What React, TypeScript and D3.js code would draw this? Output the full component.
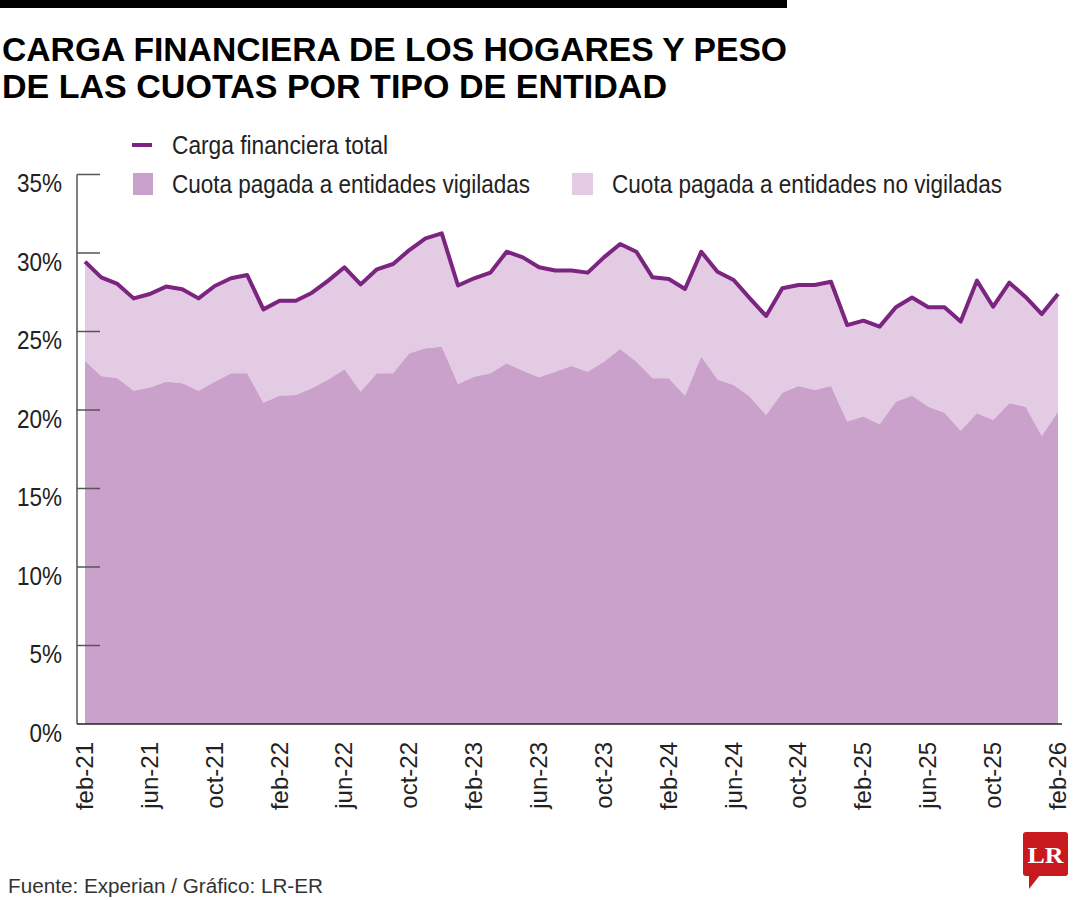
import React from "react";
import * as d3 from "d3";

const months = [
  "feb-21","mar-21","abr-21","may-21","jun-21","jul-21","ago-21","sep-21","oct-21","nov-21","dic-21",
  "ene-22","feb-22","mar-22","abr-22","may-22","jun-22","jul-22","ago-22","sep-22","oct-22","nov-22","dic-22",
  "ene-23","feb-23","mar-23","abr-23","may-23","jun-23","jul-23","ago-23","sep-23","oct-23","nov-23","dic-23",
  "ene-24","feb-24","mar-24","abr-24","may-24","jun-24","jul-24","ago-24","sep-24","oct-24","nov-24","dic-24",
  "ene-25","feb-25","mar-25","abr-25","may-25","jun-25","jul-25","ago-25","sep-25","oct-25","nov-25","dic-25",
  "ene-26","feb-26"
];

const tickLabels = [
  "feb-21","jun-21","oct-21","feb-22","jun-22","oct-22","feb-23","jun-23",
  "oct-23","feb-24","jun-24","oct-24","feb-25","jun-25","oct-25","feb-26"
];

const yTicks = [0, 5, 10, 15, 20, 25, 30, 35];

// Carga financiera total (%)
const total = [
  29.45, 28.45, 28.03, 27.11, 27.39, 27.86, 27.69, 27.11, 27.9, 28.39, 28.6,
  26.41, 26.96, 26.96, 27.47, 28.24, 29.09, 28.0, 28.96, 29.3, 30.19, 30.93, 31.25,
  27.93, 28.39, 28.75, 30.08, 29.72, 29.09, 28.88, 28.88, 28.75, 29.72, 30.57, 30.08,
  28.45, 28.34, 27.71, 30.08, 28.81, 28.28, 27.11, 25.99, 27.75, 27.96, 27.96, 28.17,
  25.41, 25.69, 25.31, 26.54, 27.16, 26.54, 26.54, 25.63, 28.24, 26.58, 28.11, 27.2,
  26.11, 27.39
];

// Cuota pagada a entidades vigiladas (%)
const vigiladas = [
  23.12, 22.17, 22.02, 21.23, 21.44, 21.8, 21.7, 21.23, 21.8, 22.34, 22.34,
  20.46, 20.91, 20.96, 21.38, 21.95, 22.59, 21.17, 22.34, 22.34, 23.61, 23.93, 24.03,
  21.65, 22.12, 22.34, 22.97, 22.5, 22.08, 22.44, 22.8, 22.44, 23.08, 23.89, 23.08,
  22.02, 22.02, 20.91, 23.4, 21.95, 21.59, 20.85, 19.68, 21.1, 21.53, 21.27, 21.53,
  19.26, 19.58, 19.09, 20.53, 20.91, 20.21, 19.83, 18.68, 19.79, 19.36, 20.43, 20.21,
  18.34, 19.89
];

const titleLines = ["CARGA FINANCIERA DE LOS HOGARES Y PESO", "DE LAS CUOTAS POR TIPO DE ENTIDAD"];

const C_LINE = "#7b2580";
const C_VIG = "#c9a1cb";
const C_NOVIG = "#e3cbe3";
const C_AXIS = "#555555";
const FONT = "'Liberation Sans', Arial, sans-serif";

export default function App() {
  const W = 1080, H = 900;
  const x = d3.scalePoint<string>().domain(months).range([85, 1058]);
  const y = d3.scaleLinear().domain([0, 35]).range([724, 174.5]);

  const rows = months.map((m, i) => ({ m, t: total[i], v: vigiladas[i] }));

  const areaVig = d3.area<any>().x(d => x(d.m)!).y0(y(0)).y1(d => y(d.v))(rows) || "";
  const areaNo = d3.area<any>().x(d => x(d.m)!).y0(d => y(d.v)).y1(d => y(d.t))(rows) || "";
  const line = d3.line<any>().x(d => x(d.m)!).y(d => y(d.t))(rows) || "";

  return (
    <svg width={W} height={H} style={{ position: "absolute", left: 0, top: 0, background: "#fff" }} fontFamily={FONT}>
      <rect x={0} y={0} width={787} height={8} fill="#000" />
      <text x={2} y={61} fontSize={33} fontWeight="bold" fill="#000" textLength={785} lengthAdjust="spacingAndGlyphs">
        {titleLines[0]}
      </text>
      <text x={2} y={98} fontSize={33} fontWeight="bold" fill="#000" textLength={665} lengthAdjust="spacingAndGlyphs">
        {titleLines[1]}
      </text>

      {/* legend */}
      <line x1={132} x2={152} y1={145} y2={145} stroke={C_LINE} strokeWidth={4} />
      <text x={172} y={154} fontSize={26} fill="#222" textLength={216} lengthAdjust="spacingAndGlyphs">Carga financiera total</text>
      <rect x={133} y={173} width={20} height={22} fill={C_VIG} />
      <text x={172} y={193} fontSize={26} fill="#222" textLength={358} lengthAdjust="spacingAndGlyphs">Cuota pagada a entidades vigiladas</text>
      <rect x={572} y={173} width={21} height={22} fill={C_NOVIG} />
      <text x={612} y={193} fontSize={26} fill="#222" textLength={390} lengthAdjust="spacingAndGlyphs">Cuota pagada a entidades no vigiladas</text>

      {/* areas */}
      <path d={areaNo} fill={C_NOVIG} />
      <path d={areaVig} fill={C_VIG} />
      <path d={line} fill="none" stroke={C_LINE} strokeWidth={4} strokeLinejoin="round" />

      {/* y axis */}
      <line x1={77} x2={77} y1={y(35)} y2={y(0)} stroke={C_AXIS} strokeWidth={1.5} />
      {yTicks.map(t => (
        <g key={t}>
          {t > 0 && <line x1={77} x2={100} y1={y(t)} y2={y(t)} stroke={C_AXIS} strokeWidth={1.5} />}
          <text x={62} y={y(t) + 18} fontSize={25} textAnchor="end" fill="#222" transform={`translate(62,0) scale(0.9,1) translate(-62,0)`}>
            {t}%
          </text>
        </g>
      ))}
      {/* x axis */}
      <line x1={77} x2={1062} y1={y(0)} y2={y(0)} stroke="#222" strokeWidth={1.5} />
      {tickLabels.map(l => (
        <text key={l} transform={`translate(${x(l)},742) rotate(-90)`} textAnchor="end" dy="0.33em" fontSize={24} fill="#222">
          {l}
        </text>
      ))}

      <text x={8} y={893} fontSize={20} fill="#333" textLength={315} lengthAdjust="spacingAndGlyphs">Fuente: Experian / Gráfico: LR-ER</text>

      {/* LR logo */}
      <g>
        <rect x={1023} y={832} width={45} height={44} rx={3} fill="#c8191e" />
        <path d="M1029,875 L1029,889 L1040,875 Z" fill="#c8191e" />
        <text x={1045.5} y={863} fontSize={24} fontWeight="bold" fontFamily="'Liberation Serif', 'DejaVu Serif', serif" fill="#fff" textAnchor="middle" textLength={36} lengthAdjust="spacingAndGlyphs">LR</text>
      </g>
    </svg>
  );
}
